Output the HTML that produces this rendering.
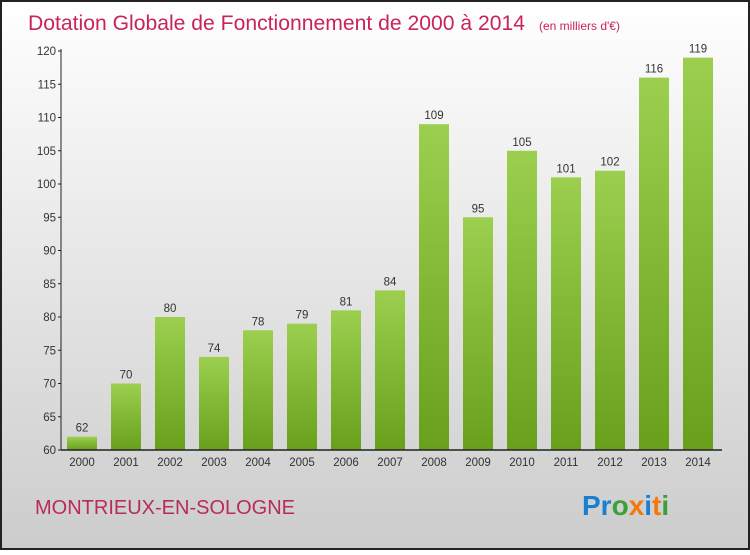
<!DOCTYPE html>
<html><head><meta charset="utf-8"><style>
body{margin:0;width:750px;height:550px;overflow:hidden;font-family:"Liberation Sans",sans-serif}
</style></head><body>
<svg width="750" height="550" xmlns="http://www.w3.org/2000/svg">
<defs>
<linearGradient id="bg" x1="0" y1="0" x2="0" y2="1"><stop offset="0" stop-color="#ffffff"/><stop offset="1" stop-color="#cccccc"/></linearGradient>
<linearGradient id="bar" x1="0" y1="0" x2="0" y2="1"><stop offset="0" stop-color="#9ccf4f"/><stop offset="1" stop-color="#68a01c"/></linearGradient>
</defs>
<rect x="1" y="1" width="748" height="548" fill="url(#bg)" stroke="#222" stroke-width="2"/>
<text x="28" y="30" font-size="21" fill="#c8245a"><tspan textLength="497" lengthAdjust="spacingAndGlyphs">Dotation Globale de Fonctionnement de 2000 à 2014</tspan><tspan font-size="12" dx="14">(en milliers d'€)</tspan></text>
<g id="yaxis"></g>
<g id="bars"></g>
<g id="xaxis"></g>
<text x="35" y="514" font-size="20" fill="#b82b5c">MONTRIEUX-EN-SOLOGNE</text>
<text x="582" y="515" font-size="28" font-weight="bold"><tspan fill="#1a7fd0">Pr</tspan><tspan fill="#3aa03a">o</tspan><tspan fill="#f07a10">x</tspan><tspan fill="#1a7fd0">i</tspan><tspan fill="#f07a10">t</tspan><tspan fill="#3aa03a">i</tspan></text>
</svg>
<script>
const years=["2000","2001","2002","2003","2004","2005","2006","2007","2008","2009","2010","2011","2012","2013","2014"];
const values=[62,70,80,74,78,79,81,84,109,95,105,101,102,116,119];
const yTicks=[60,65,70,75,80,85,90,95,100,105,110,115,120];
const NS="http://www.w3.org/2000/svg";
const y0=450,yTop=51,vMin=60,vMax=120;
function yS(v){return y0-(v-vMin)/(vMax-vMin)*(y0-yTop);}
function xS(i){return 82+i*44;}
function mk(t,a,p){const e=document.createElementNS(NS,t);for(const k in a)e.setAttribute(k,a[k]);p.appendChild(e);return e;}
const ya=document.getElementById('yaxis'),ba=document.getElementById('bars'),xa=document.getElementById('xaxis');
mk('line',{x1:61,y1:yTop-2,x2:61,y2:y0,stroke:'#222','stroke-width':1},ya);
mk('line',{x1:61,y1:y0,x2:722,y2:y0,stroke:'#222','stroke-width':1.5},xa);
yTicks.forEach(v=>{
 const l=mk('line',{x1:58,y1:yS(v),x2:61,y2:yS(v),stroke:'#222'},ya);
 
 
 const t=mk('text',{x:56,y:yS(v)+4,'text-anchor':'end','font-size':11.5,fill:'#333'},ya);
 t.textContent=v;
 
 
});
years.forEach((yr,i)=>{
 const v=values[i];
 const r=mk('rect',{x:xS(i)-15,y:yS(v),width:30,height:y0-yS(v),fill:'url(#bar)'},ba);
 
 
 const lv=mk('text',{x:xS(i),y:yS(v)-5,'text-anchor':'middle','font-size':11.5,fill:'#333'},ba);
 lv.textContent=v;
 
 
 const t=mk('text',{x:xS(i),y:466,'text-anchor':'middle','font-size':11.5,fill:'#333'},xa);
 t.textContent=yr;
 
 
});
</script>
</body></html>
